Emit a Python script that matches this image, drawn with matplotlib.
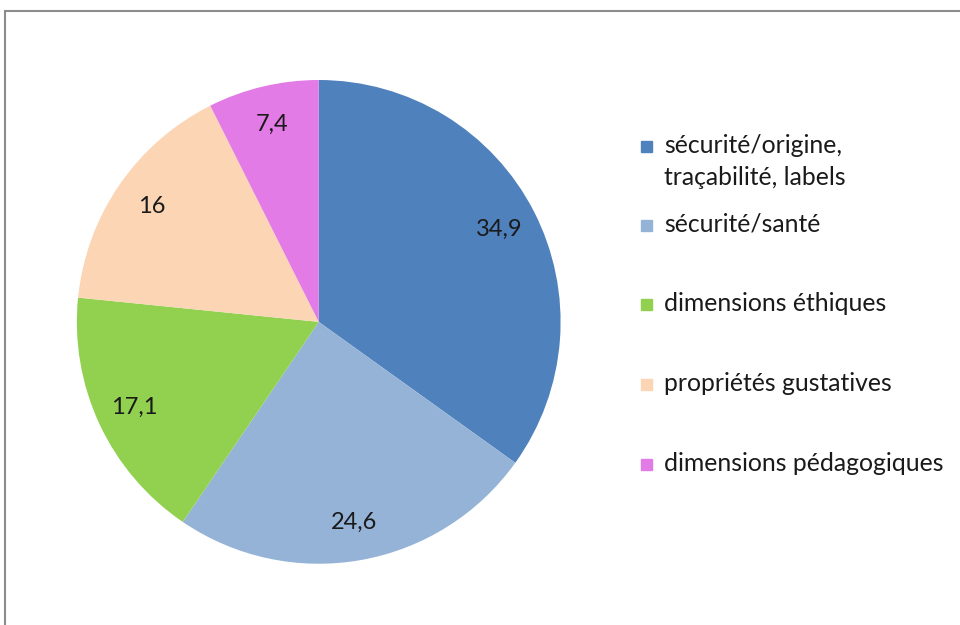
import matplotlib.pyplot as plt
from matplotlib.patches import Rectangle

plt.rcParams['font.family'] = ['Lato', 'DejaVu Sans']

categories = ["sécurité/origine,\ntraçabilité, labels", "sécurité/santé",
              "dimensions éthiques", "propriétés gustatives",
              "dimensions pédagogiques"]
values = [34.9, 24.6, 17.1, 16, 7.4]
colors = ["#4f81bd", "#95b3d7", "#92d050", "#fcd5b5", "#e27be6"]

fig = plt.figure(figsize=(9.6, 6.25), dpi=100)

# outer frame (cut at right / bottom like the screenshot)
fig.patches.append(Rectangle((5 / 960, -0.1), 1.2, 1 - 11 / 625 + 0.1,
                             transform=fig.transFigure, fill=False,
                             edgecolor="#8c8c8c", linewidth=1.5))

ax = fig.add_axes([0.080, 0.098, 0.504, 0.774])
wedges, texts, autotexts = ax.pie(
    values, colors=colors, startangle=90, counterclock=False,
    autopct=lambda p: f"{p:.1f}".replace(".", ",").replace(",0", ""),
    pctdistance=0.84, wedgeprops=dict(linewidth=0),
    textprops=dict(fontsize=17, color="#1a1a1a"))
ax.set_xlim(-1, 1)
ax.set_ylim(-1, 1)
ax.set_aspect("equal")

# legend, drawn by hand so the marker sits on the first text line
leg_y = [147, 226, 305, 385, 465]
for lab, col, y in zip(categories, colors, leg_y):
    fig.patches.append(Rectangle((641 / 960, 1 - (y + 5) / 625), 11 / 960, 11 / 625,
                                 transform=fig.transFigure, color=col))
    fig.text(664 / 960, 1 - (y - 13) / 625, lab, fontsize=17.8, color="#1a1a1a",
             va="top", ha="left", linespacing=1.45)

fig.savefig("out.png", dpi=100)
